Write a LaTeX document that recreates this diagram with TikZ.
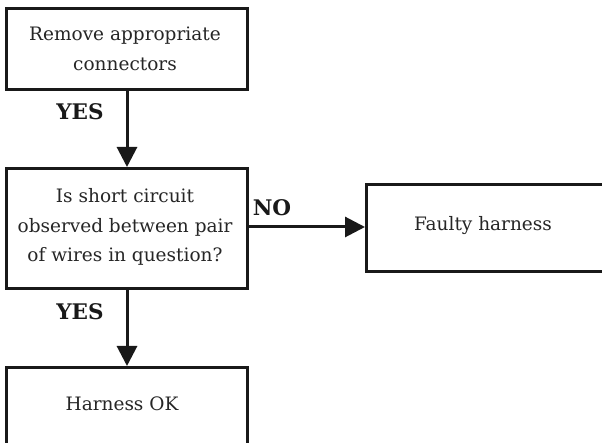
\documentclass[tikz,border=0pt]{standalone}
\usepackage{fontspec}
\setmainfont{DejaVu Serif}
\usetikzlibrary{arrows.meta}
\begin{document}
\begin{tikzpicture}[x=1pt,y=-1pt,
  box/.style={draw=black!90,line width=3pt,fill=white},
  txt/.style={align=center,font=\fontsize{18.5}{29.5}\selectfont,text=black!85},
  lbl/.style={font=\fontsize{21.5}{24}\selectfont\bfseries,text=black!90},
  conn/.style={line width=3pt,draw=black!90,-{Triangle[length=20pt,width=20pt]}}]
\useasboundingbox (0,0) rectangle (602,443);
\path[fill=white] (0,0) rectangle (602,443);
\node[box,minimum width=241pt,minimum height=81pt,anchor=north west] (a) at (5,7) {};
\node[txt] (at) at (125,49) {Remove appropriate\\connectors};
\node[box,minimum width=241pt,minimum height=120pt,anchor=north west] (b) at (5,167) {};
\node[txt] (bt) at (125,227) {Is short circuit\\observed between pair\\of wires in question?};
\node[box,minimum width=260pt,minimum height=87pt,anchor=north west] (c) at (365,183) {};
\node[txt] (ct) at (483,226) {Faulty harness};
\node[box,minimum width=241pt,minimum height=90pt,anchor=north west] (d) at (5,366) {};
\node[txt] (dt) at (122,404) {Harness OK};
\draw[conn] (a.south) -- (b.north);
\draw[conn] (b.south) -- (d.north);
\draw[conn] (b.east |- 0,227) -- (c.west |- 0,227);
\node[lbl] (y1) at (80,112) {YES};
\node[lbl] (y2) at (80,312) {YES};
\node[lbl] (n1) at (272,208) {NO};
\end{tikzpicture}
\end{document}
